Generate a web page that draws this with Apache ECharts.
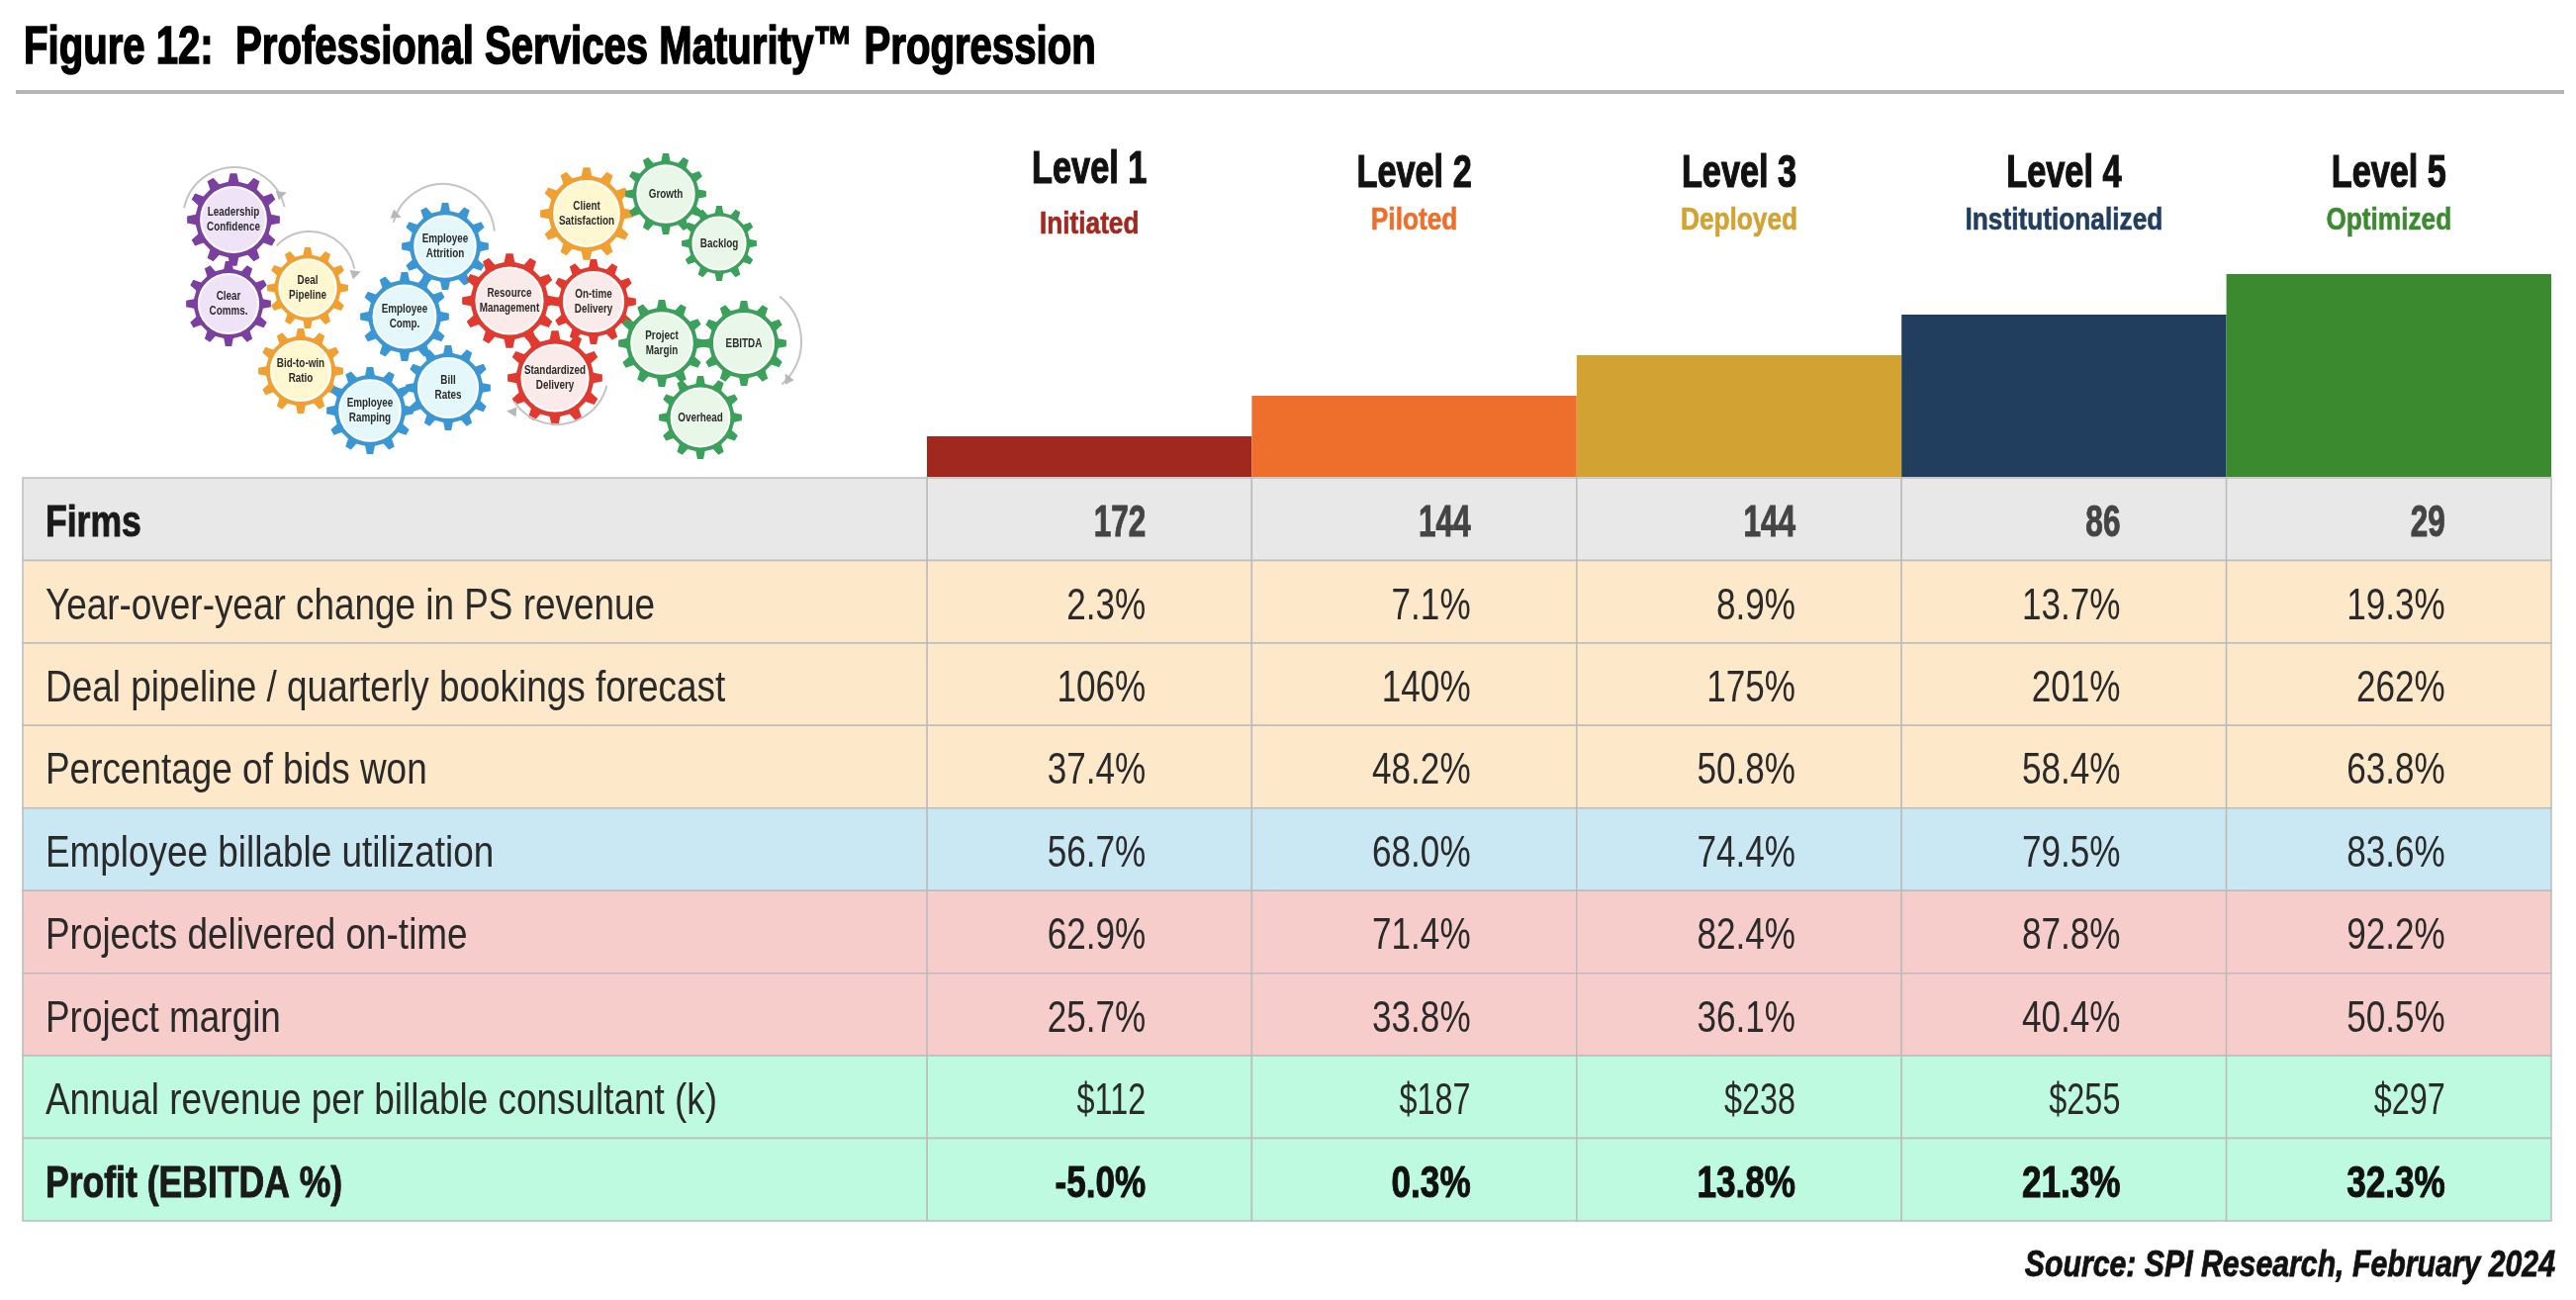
<!DOCTYPE html>
<html>
<head>
<meta charset="utf-8">
<title>Professional Services Maturity Progression</title>
<style>
    html, body { margin: 0; padding: 0; background: #fff; }
    #main { width: 2604px; height: 1314px; }
</style>
<script src="https://cdn.jsdelivr.net/npm/echarts@6/dist/echarts.min.js"></script>
</head>
<body>
<div id="main"></div>
<script>
// chart data
var levels = ['Level 1', 'Level 2', 'Level 3', 'Level 4', 'Level 5'];
var levelNames = ['Initiated', 'Piloted', 'Deployed', 'Institutionalized', 'Optimized'];
var levelSteps = [1, 2, 3, 4, 5];

var rowNames = [
    'Firms',
    'Year-over-year change in PS revenue',
    'Deal pipeline / quarterly bookings forecast',
    'Percentage of bids won',
    'Employee billable utilization',
    'Projects delivered on-time',
    'Project margin',
    'Annual revenue per billable consultant (k)',
    'Profit (EBITDA %)'
];
var firms = [172, 144, 144, 86, 29];
var revenueChange = [2.3, 7.1, 8.9, 13.7, 19.3];
var dealPipeline = [106, 140, 175, 201, 262];
var bidsWon = [37.4, 48.2, 50.8, 58.4, 63.8];
var utilization = [56.7, 68.0, 74.4, 79.5, 83.6];
var onTime = [62.9, 71.4, 82.4, 87.8, 92.2];
var projectMargin = [25.7, 33.8, 36.1, 40.4, 50.5];
var revenuePerConsultant = [112, 187, 238, 255, 297];
var ebitda = [-5.0, 0.3, 13.8, 21.3, 32.3];

var gearNames = [
    'Leadership\nConfidence', 'Clear\nComms.', 'Deal\nPipeline', 'Bid-to-win\nRatio',
    'Employee\nAttrition', 'Employee\nComp.', 'Employee\nRamping', 'Bill\nRates',
    'Resource\nManagement', 'On-time\nDelivery', 'Standardized\nDelivery', 'Client\nSatisfaction',
    'Growth', 'Backlog', 'Project\nMargin', 'EBITDA', 'Overhead'
];

// colours and layout
var barColors = ['#a0281f', '#ee6f2b', '#d2a232', '#213e5f', '#3b8a30'];
var rowColors = ['#e8e8e8', '#fde8ca', '#fde8ca', '#fde8ca', '#c9e8f3', '#f7cdcc', '#f7cdcc', '#bdfae0', '#bdfae0'];
var cellBorder = '#bcbcbc';
var fontName = '"Liberation Sans", sans-serif';

var pct1 = function (v) { return v.toFixed(1) + '%'; };
var pct0 = function (v) { return v.toFixed(0) + '%'; };
var usd = function (v) { return '$' + v; };
var plain = function (v) { return '' + v; };
var rows = [
    [firms, plain], [revenueChange, pct1], [dealPipeline, pct0], [bidsWon, pct1],
    [utilization, pct1], [onTime, pct1], [projectMargin, pct1], [revenuePerConsultant, usd], [ebitda, pct1]
];
var lastRow = rowNames.length - 1;

// gear picture: [x, y, r, colours]
var purple = ['#7b3fa0', '#efe4f7'], amber = ['#f0a030', '#fff7cf'], blue = ['#3a97d4', '#e4f7fb'],
    red = ['#e03a30', '#fbeaea'], green = ['#3aa05a', '#e8f7e8'];
var gearSpots = [
    [236, 222, 47, purple], [231, 307, 43, purple], [311, 291, 41, amber], [304, 375, 43, amber],
    [450, 249, 44, blue], [409, 320, 45, blue], [374, 415, 44, blue], [453, 392, 43, blue],
    [515, 304, 48, red], [600, 305, 43, red], [561, 382, 48, red], [593, 216, 47, amber],
    [673, 196, 41, green], [727, 246, 38, green], [669, 347, 44, green], [752, 347, 43, green], [708, 422, 42, green]
];

function gearPoints(cx, cy, r) {
    var pts = [], teeth = 12, inner = r * 0.82;
    for (var i = 0; i < teeth; i++) {
        var a = i / teeth * Math.PI * 2, w = Math.PI * 2 / teeth;
        var steps = [[-0.26, inner], [-0.14, r], [0.14, r], [0.26, inner]];
        for (var k = 0; k < steps.length; k++) {
            var t = a + steps[k][0] * w;
            pts.push([cx + Math.cos(t) * steps[k][1], cy + Math.sin(t) * steps[k][1]]);
        }
    }
    return pts;
}

var pictureParts = [];
gearSpots.forEach(function (g, i) {
    pictureParts.push({ type: 'polygon', shape: { points: gearPoints(g[0], g[1], g[2]) }, style: { fill: g[3][0] } });
    pictureParts.push({
        type: 'circle', shape: { cx: g[0], cy: g[1], r: g[2] * 0.7 },
        style: { fill: g[3][1], stroke: '#fff', lineWidth: 2 }
    });
    pictureParts.push({
        type: 'text', x: g[0], y: g[1], scaleX: 0.76,
        style: {
            text: gearNames[i], fill: '#2b2b2b', font: 'bold 13px ' + fontName,
            textAlign: 'center', textVerticalAlign: 'middle', lineHeight: 15
        }
    });
});

// grey arrows around the gear groups: [cx, cy, r, start, end, arrow x, arrow y, arrow angle]
var arcSpots = [
    [237, 221, 52, 3.35, 6.05, 285, 196, 1.9],
    [313, 280, 46, 3.9, 6.1, 360, 276, 1.9],
    [448, 238, 52, 3.4, 6.2, 401, 218, 1.2],
    [563, 377, 52, 0.25, 2.55, 517, 416, 4.6],
    [752, 345, 58, -0.9, 0.85, 796, 382, 3.6]
];
arcSpots.forEach(function (a) {
    pictureParts.push({
        type: 'arc', shape: { cx: a[0], cy: a[1], r: a[2], startAngle: a[3], endAngle: a[4] },
        style: { stroke: '#c4c4c4', lineWidth: 2, fill: null }
    });
    pictureParts.push({
        type: 'polygon', x: a[5], y: a[6], rotation: a[7],
        shape: { points: [[-5, -5], [5, -5], [0, 5]] }, style: { fill: '#b8b8b8' }
    });
});

// the fonts on this machine are wider than the original, so text gets squeezed with scaleX
// heavy adds a thin outline, the original face is blacker than Liberation bold
function squeezedText(x, y, text, font, color, align, squeeze, heavy) {
    var style = { text: text, font: font, fill: color, textAlign: align, textVerticalAlign: 'middle' };
    if (heavy) {
        style.stroke = color;
        style.lineWidth = heavy;
    }
    return { type: 'text', x: x, y: y, scaleX: squeeze, style: style };
}

function cellRect(c, s) {
    return {
        type: 'rect',
        shape: { x: c[0] - s[0] / 2, y: c[1] - s[1] / 2, width: s[0], height: s[1] },
        style: { fill: rowColors[Math.round(c[2])], stroke: cellBorder, lineWidth: 1.5 }
    };
}

function renderValueCell(params, api) {
    var rowIdx = api.value(1);
    var c = api.coord([api.value(0), rowIdx]);
    var s = api.size([1, 1]);
    var text = rows[rowIdx][1](api.value(2));
    var font = '45px ' + fontName, color = '#2a2a2a', squeeze = 0.78, heavy = 0;
    if (rowIdx === 0) {
        font = 'bold 45px ' + fontName;
        color = '#444';
        squeeze = 0.7;
        heavy = 1;
    } else if (rowIdx === lastRow) {
        font = 'bold 45px ' + fontName;
        color = '#111';
        heavy = 1;
    } else if (rowIdx === 7) {
        squeeze = 0.72;
    }
    return {
        type: 'group',
        children: [
            cellRect([c[0], c[1], rowIdx], s),
            squeezedText(c[0] + 57, c[1] + 5, text, font, color, 'right', squeeze, heavy)
        ]
    };
}

function renderRowName(params, api) {
    var rowIdx = api.value(1);
    var c = api.coord([0, rowIdx]);
    var s = api.size([1, 1]);
    var strong = rowIdx === 0 || rowIdx === lastRow;
    return {
        type: 'group',
        children: [
            cellRect([c[0], c[1], rowIdx], s),
            squeezedText(c[0] - s[0] / 2 + 23, c[1] + 5, rowNames[rowIdx],
                (strong ? 'bold ' : '') + '45px ' + fontName, strong ? '#1a1a1a' : '#2a2a2a', 'left',
                strong ? 0.79 : 0.82, strong ? 1 : 0)
        ]
    };
}

function renderLevelHeader(params, api) {
    var i = api.value(0);
    var c = api.coord([i, api.value(1)]);
    var nudge = i === 0 ? 4 : 0; // Level 1 sits slightly apart in the original
    return {
        type: 'group',
        children: [
            squeezedText(c[0], c[1] - 101 - nudge, levels[i], 'bold 46px ' + fontName, '#111', 'center', 0.745, 1.2),
            squeezedText(c[0], c[1] - 54 + nudge, levelNames[i], 'bold 32px ' + fontName, barColors[i], 'center', 0.82, 0.6)
        ]
    };
}

var cells = [];
rows.forEach(function (r, y) {
    r[0].forEach(function (v, x) {
        cells.push([x, y, v]);
    });
});

var myChart = echarts.init(document.getElementById('main'));
var option = {
    backgroundColor: '#fff',
    animation: false,
    grid: [
        { left: 937, width: 1642, top: 277, height: 205 },
        { left: 937, width: 1642, top: 483, height: 751 },
        { left: 23, width: 914, top: 483, height: 751 }
    ],
    xAxis: [
        { gridIndex: 0, type: 'category', data: levels, show: false },
        { gridIndex: 1, type: 'category', data: levels, show: false },
        { gridIndex: 2, type: 'category', data: ['Metric'], show: false }
    ],
    yAxis: [
        { gridIndex: 0, type: 'value', min: 0, max: 5, show: false },
        { gridIndex: 1, type: 'category', inverse: true, data: rowNames, show: false },
        { gridIndex: 2, type: 'category', inverse: true, data: rowNames, show: false }
    ],
    series: [{
        name: 'Maturity step',
        type: 'bar', xAxisIndex: 0, yAxisIndex: 0, barWidth: '100%', silent: true,
        data: levelSteps.map(function (v, i) {
            return { value: v, itemStyle: { color: barColors[i] } };
        })
    }, {
        name: 'Level headers',
        type: 'custom', xAxisIndex: 0, yAxisIndex: 0, silent: true, clip: false,
        renderItem: renderLevelHeader,
        data: levels.map(function (n, i) { return [i, 5]; })
    }, {
        name: 'Metrics',
        type: 'custom', xAxisIndex: 1, yAxisIndex: 1, silent: true,
        renderItem: renderValueCell,
        data: cells
    }, {
        name: 'Row names',
        type: 'custom', xAxisIndex: 2, yAxisIndex: 2, silent: true,
        renderItem: renderRowName,
        data: rowNames.map(function (n, i) { return [0, i]; })
    }],
    graphic: [{
        type: 'text', x: 24, y: 49, scaleX: 0.743,
        style: {
            text: 'Figure 12:  Professional Services Maturity\u2122 Progression',
            font: 'bold 54px ' + fontName, fill: '#000', stroke: '#000', lineWidth: 1.6, textVerticalAlign: 'middle'
        }
    }, {
        type: 'rect', x: 16, y: 91, shape: { width: 2576, height: 4 }, style: { fill: '#b5b5b5' }
    }, {
        type: 'text', x: 2583, y: 1280, scaleX: 0.84,
        style: {
            text: 'Source: SPI Research, February 2024',
            font: 'italic bold 36px ' + fontName, fill: '#111', stroke: '#111', lineWidth: 0.8,
            textAlign: 'right', textVerticalAlign: 'middle'
        }
    }, {
        type: 'group', x: 0, y: 0, children: pictureParts
    }]
};
myChart.setOption(option);
</script>
</body>
</html>
